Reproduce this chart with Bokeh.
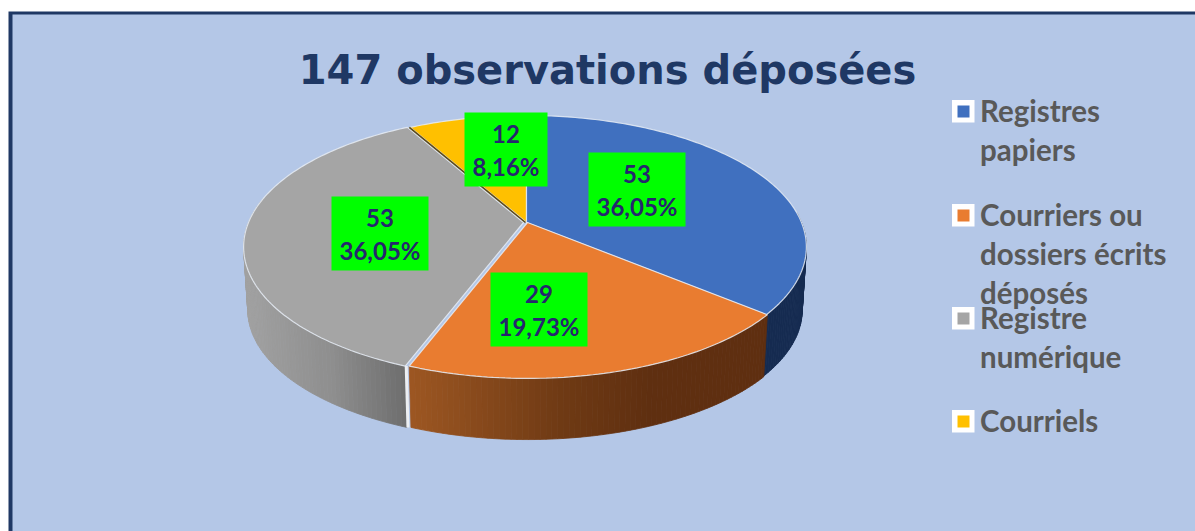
import math
from bokeh.plotting import figure
from bokeh.models import Range1d
from bokeh.embed import file_html
from bokeh.resources import INLINE
from bokeh.core.properties import value

title_text = "147 observations déposées"
categories = ["Registres papiers", "Courriers ou dossiers écrits déposés", "Registre numérique", "Courriels"]
counts = [53, 29, 53, 12]
percent_labels = ["36,05%", "19,73%", "36,05%", "8,16%"]
legend_lines = [["Registres", "papiers"], ["Courriers ou", "dossiers écrits", "déposés"], ["Registre", "numérique"], ["Courriels"]]
colors = ["#4070BF", "#E97C30", "#A5A5A5", "#FFC000"]

# layout (page pixels)
BG = "#B4C7E7"; FRAME = "#1F3864"; GREEN = "#00FF00"; LABEL = "#26266E"; LEG = "#595959"
CX, CY = 526, 222
A, B, K = 275, 126.9, 0.186
DEPTH, BOTTOM_SCALE = 63.5, 0.985
SHIFT = [0, 1, -3, 0]
SIDE_STOPS = [
    [(760, "#152B50"), (810, "#152B50")],
    [(411, "#9C5622"), (560, "#6F3A14"), (650, "#5F2F10"), (770, "#5F2F10")],
    [(240, "#A2A2A2"), (330, "#8E8E8E"), (408, "#6C6C6C")],
    [(400, "#C79500"), (530, "#C79500")],
]
LABEL_BOX = [(588, 152, 685, 226), (490, 272, 587, 346), (331, 196, 428, 270), (464, 112, 547, 186)]
LEG_Y = [111, 215, 318, 421]
LINE_H = 39

def hx(c):
    return [int(c[i:i + 2], 16) for i in (1, 3, 5)]

def grad(stops, x):
    if x <= stops[0][0]:
        return stops[0][1]
    for (x0, c0), (x1, c1) in zip(stops, stops[1:]):
        if x <= x1:
            t = (x - x0) / (x1 - x0)
            a, b = hx(c0), hx(c1)
            return "#%02X%02X%02X" % tuple(round(p + (q - p) * t) for p, q in zip(a, b))
    return stops[-1][1]

def top(frac, dx=0):
    th = 2 * math.pi * frac
    u, v = math.sin(th), math.cos(th)
    w = 1 + K * v
    return CX + dx + A * u / w, CY - B * v / w

def bottom(frac, dx=0):
    x, y = top(frac)
    return CX + dx + (x - CX) * BOTTOM_SCALE, CY + (y - CY) * BOTTOM_SCALE + DEPTH

p = figure(width=1195, height=531, x_range=Range1d(0, 1195), y_range=Range1d(531, 0),
           toolbar_location=None, output_backend="svg", min_border=0,
           background_fill_color="white", border_fill_color="white",
           styles={"position": "absolute", "left": "0px", "top": "0px"})
p.axis.visible = False
p.grid.visible = False
p.outline_line_color = None

# frame and plate
p.quad(left=[8], right=[1195], top=[11], bottom=[531], fill_color=FRAME, line_color=None)
p.quad(left=[12], right=[1195], top=[14], bottom=[531], fill_color=BG, line_color=None)

total = sum(counts)
edges = [0]
for c in counts:
    edges.append(edges[-1] + c / total)

# side walls, as thin coloured strips
for i in range(len(counts)):
    f0, f1 = edges[i], edges[i + 1]
    n = max(8, int((f1 - f0) * 360))
    for j in range(n):
        a = f0 + (f1 - f0) * j / n
        b = f0 + (f1 - f0) * (j + 1) / n
        if 0.24 < a < 0.78 or 0.24 < b < 0.78:
            t0, t1 = top(a, SHIFT[i]), top(b, SHIFT[i])
            b0, b1 = bottom(a, SHIFT[i]), bottom(b, SHIFT[i])
            col = grad(SIDE_STOPS[i], (t0[0] + t1[0]) / 2)
            p.patch([t0[0], t1[0], b1[0], b0[0]], [t0[1], t1[1], b1[1], b0[1]],
                    fill_color=col, line_color=col, line_width=0.8)

# light edge where the grey slice is pulled away from the orange one
g = top(edges[2], SHIFT[2]); gb = bottom(edges[2], SHIFT[2])
p.line([g[0] + 1, gb[0] + 1], [g[1], gb[1]], line_color="#EDEFF2", line_width=3)

# top faces
for i in [3, 0, 1, 2]:
    f0, f1 = edges[i], edges[i + 1]
    n = max(8, int((f1 - f0) * 360))
    pts = [top(f0 + (f1 - f0) * j / n, SHIFT[i]) for j in range(n + 1)]
    xs = [CX + SHIFT[i]] + [q[0] for q in pts]
    ys = [CY] + [q[1] for q in pts]
    p.patch(xs, ys, fill_color=colors[i], line_color="#E6ECF5", line_width=1.2, line_alpha=0.85)

# dark seam between yellow and grey
s = top(edges[3], SHIFT[2])
p.line([s[0] + 2, CX - 1], [s[1], CY], line_color="#5E4A16", line_width=1.6)

# value labels
for i, (l, t, r, b) in enumerate(LABEL_BOX):
    p.quad(left=[l], right=[r], top=[t], bottom=[b], fill_color=GREEN, line_color=None)
    mx = (l + r) / 2
    for y, txt in ((t + 21, str(counts[i])), (t + 54, percent_labels[i])):
        p.text([mx], [y], text=[txt], text_align="center", text_baseline="middle",
               text_font=value("Lato"), text_font_style="bold", text_font_size="24px", text_color=LABEL)

# title
p.text([607], [69], text=[title_text], text_align="center", text_baseline="middle",
       text_font=value("DejaVu Sans"), text_font_style="bold", text_font_size="40px", text_color=FRAME)

# legend
for i, lines in enumerate(legend_lines):
    y0 = LEG_Y[i]
    p.quad(left=[951.5], right=[974], top=[y0 - 11.5], bottom=[y0 + 11], fill_color="white", line_color=None)
    p.quad(left=[957], right=[969], top=[y0 - 6], bottom=[y0 + 6], fill_color=colors[i], line_color=None)
    for k, line in enumerate(lines):
        p.text([979.5], [y0 - 1.5 + k * LINE_H], text=[line], text_align="left", text_baseline="middle",
               text_font=value("Lato"), text_font_style="bold", text_font_size="29.5px", text_color=LEG)

open("out.html", "w").write(file_html(p, INLINE))
